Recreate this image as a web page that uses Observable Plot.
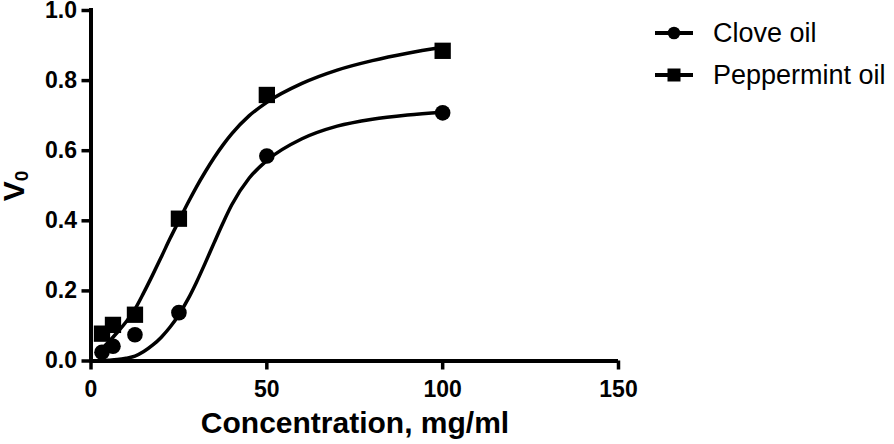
<!DOCTYPE html>
<html>
<head>
<meta charset="utf-8">
<script src="https://cdn.jsdelivr.net/npm/d3@7"></script>
<script src="https://cdn.jsdelivr.net/npm/@observablehq/plot@0.6"></script>
<style>
  html, body { margin: 0; padding: 0; background: #fff; }
  #wrap { position: relative; width: 894px; height: 444px; overflow: hidden; font-family: 'Liberation Sans', Arial, sans-serif; }
  #legend { position: absolute; left: 655px; top: 12px; }
  .row { display: flex; align-items: center; height: 42px; }
  .row svg { margin-right: 20px; }
  .row span { font-size: 27px; color: #000; white-space: nowrap; }
</style>
</head>
<body>
<div id="wrap"></div>
<script>
// Measured data points (concentration mg/ml)
const concentrations = [3.125, 6.25, 12.5, 25, 50, 100];
const cloveValues = [0.025, 0.042, 0.075, 0.138, 0.585, 0.708];
const peppermintValues = [0.078, 0.103, 0.132, 0.406, 0.759, 0.885];

// Fitted curves
const fitX = [3.125, 5, 7.5, 10, 12.5, 15, 17.5, 20, 22.5, 25, 27.5, 30, 32.5, 35, 37.5, 40, 45, 50, 60, 70, 80, 90, 100];
const cloveFitY = [0.001, 0.002, 0.004, 0.008, 0.014, 0.027, 0.045, 0.068, 0.097, 0.132, 0.175, 0.225, 0.28, 0.337, 0.393, 0.445, 0.522, 0.572, 0.634, 0.67, 0.69, 0.702, 0.71];
const peppermintFitY = [0.035, 0.054, 0.082, 0.112, 0.148, 0.195, 0.245, 0.297, 0.35, 0.4, 0.45, 0.497, 0.54, 0.58, 0.616, 0.648, 0.7, 0.738, 0.792, 0.83, 0.857, 0.878, 0.895];

const seriesNames = ["Clove oil", "Peppermint oil"];
const xTicks = [0, 50, 100, 150];
const yTicks = [0, 0.2, 0.4, 0.6, 0.8, 1.0];
const xLabel = "Concentration, mg/ml";
const yLabelMain = "V";
const yLabelSub = "0";

const clovePts = concentrations.map((c, i) => ({x: c, y: cloveValues[i]}));
const pepPts = concentrations.map((c, i) => ({x: c, y: peppermintValues[i]}));
const cloveFit = fitX.map((c, i) => ({x: c, y: cloveFitY[i]}));
const pepFit = fitX.map((c, i) => ({x: c, y: peppermintFitY[i]}));

const chart = Plot.plot({
  width: 894,
  height: 444,
  marginLeft: 90.5,
  marginRight: 276,
  marginTop: 10,
  marginBottom: 83.5,
  x: {domain: [0, 150]},
  y: {domain: [0, 1]},
  style: {fontFamily: "'Liberation Sans', Arial, sans-serif", fontSize: "23px", fontWeight: "bold", color: "#000", background: "#fff", overflow: "visible"},
  marks: [
    Plot.line(cloveFit, {x: "x", y: "y", curve: "monotone-x", stroke: "#000", strokeWidth: 3.5}),
    Plot.line(pepFit, {x: "x", y: "y", curve: "monotone-x", stroke: "#000", strokeWidth: 3.5}),
    Plot.axisX({ticks: xTicks, tickSize: 9, tickPadding: 11, strokeWidth: 3.5, label: null, tickFormat: d => String(d)}),
    Plot.axisY({ticks: yTicks, tickSize: 9, tickPadding: 5, strokeWidth: 3.5, label: null, tickFormat: d3.format(".1f")}),
    Plot.ruleX([0], {y1: 0, y2: 1, stroke: "#000", strokeWidth: 4, strokeLinecap: "square"}),
    Plot.ruleY([0], {x1: 0, x2: 150, stroke: "#000", strokeWidth: 4}),
    Plot.dot(clovePts, {x: "x", y: "y", r: 7.8, fill: "#000", stroke: "none", symbol: "circle"}),
    Plot.dot(pepPts, {x: "x", y: "y", r: 9.2, fill: "#000", stroke: "none", symbol: "square"})
  ]
});

const svg = d3.select(chart);
svg.append("text")
  .attr("x", 355).attr("y", 433)
  .attr("text-anchor", "middle")
  .style("font-size", "30px").style("font-weight", "bold")
  .text(xLabel);

const yl = svg.append("text")
  .attr("transform", "translate(24,186) rotate(-90)")
  .attr("text-anchor", "middle")
  .style("font-size", "30px").style("font-weight", "bold");
yl.append("tspan").text(yLabelMain);
yl.append("tspan").attr("dy", 4).style("font-size", "19px").text(yLabelSub);

const wrap = document.getElementById("wrap");
wrap.appendChild(chart);

// Legend
const legend = document.createElement("div");
legend.id = "legend";
const symbols = ["circle", "square"];
seriesNames.forEach((name, i) => {
  const row = document.createElement("div");
  row.className = "row";
  const s = d3.create("svg").attr("width", 38).attr("height", 42);
  s.append("line").attr("x1", 0).attr("x2", 38).attr("y1", 21).attr("y2", 21).attr("stroke", "#000").attr("stroke-width", 4);
  if (symbols[i] === "circle") s.append("circle").attr("cx", 19).attr("cy", 21).attr("r", 6.3).attr("fill", "#000");
  else s.append("rect").attr("x", 12.5).attr("y", 14.5).attr("width", 13).attr("height", 13).attr("fill", "#000");
  row.appendChild(s.node());
  const t = document.createElement("span");
  t.textContent = name;
  row.appendChild(t);
  legend.appendChild(row);
});
wrap.appendChild(legend);
</script>
</body>
</html>
